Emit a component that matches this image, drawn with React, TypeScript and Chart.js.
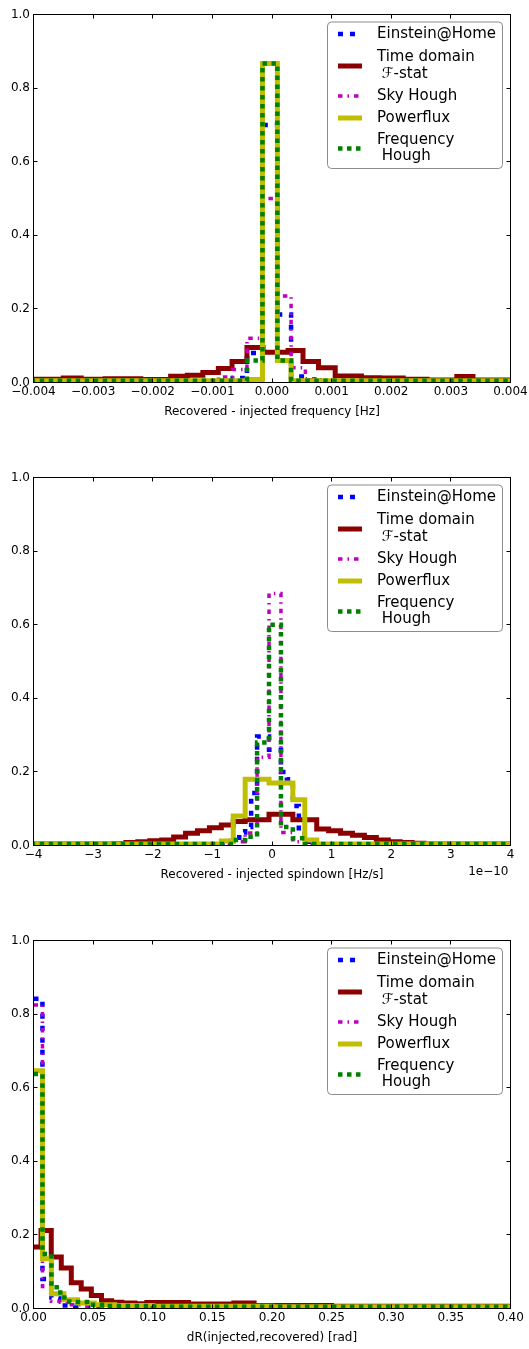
import React, { useEffect, useRef } from 'react';
import { Chart, registerables } from 'chart.js';

Chart.register(...registerables);

const FONT = "'DejaVu Sans', sans-serif";

// ---------- series names ----------
const SERIES_LABELS: string[][] = [
  ['Einstein@Home'],
  ['Time domain', ' \u2131-stat'],
  ['Sky Hough'],
  ['Powerflux'],
  ['Frequency', ' Hough'],
];

// ---------- axis ticks ----------
const Y_TICKS = [0, 0.2, 0.4, 0.6, 0.8, 1.0];
const Y_TICK_LABELS = ['0.0', '0.2', '0.4', '0.6', '0.8', '1.0'];

const FREQ_TICKS = [-0.004, -0.003, -0.002, -0.001, 0, 0.001, 0.002, 0.003, 0.004];
const FREQ_TICK_LABELS = ['\u22120.004', '\u22120.003', '\u22120.002', '\u22120.001', '0.000', '0.001', '0.002', '0.003', '0.004'];

const SPIN_TICKS = [-4, -3, -2, -1, 0, 1, 2, 3, 4];
const SPIN_TICK_LABELS = ['\u22124', '\u22123', '\u22122', '\u22121', '0', '1', '2', '3', '4'];

const DR_TICKS = [0, 0.05, 0.1, 0.15, 0.2, 0.25, 0.3, 0.35, 0.4];
const DR_TICK_LABELS = ['0.00', '0.05', '0.10', '0.15', '0.20', '0.25', '0.30', '0.35', '0.40'];

// ---------- panel 1: frequency [Hz] (bin edges, normalised heights) ----------
const F_EAH_EDGES = [-0.0045, -0.00066, -0.00042, -0.00016, 0.00009, 0.00032, 0.00056, 0.0008, 0.0045];
const F_EAH_VALS = [0.002, 0.012, 0.08, 0.70, 0.185, 0.016, 0.006, 0.002];

const F_TD_EDGES = [-0.0045, -0.0035, -0.0032, -0.0028, -0.0022, -0.0017, -0.00142, -0.00116, -0.0009, -0.00067, -0.00042, -0.00015, 0.00027, 0.00052, 0.00078, 0.00106, 0.0015, 0.0018, 0.0022, 0.0026, 0.0031, 0.00337, 0.0036, 0.0045];
const F_TD_VALS = [0.009, 0.012, 0.009, 0.01, 0.008, 0.017, 0.02, 0.027, 0.038, 0.057, 0.095, 0.082, 0.087, 0.057, 0.04, 0.018, 0.013, 0.012, 0.009, 0.007, 0.016, 0.007, 0.007];

const F_SKY_EDGES = [-0.0045, -0.0009, -0.00066, -0.00042, -0.00016, 0.00009, 0.00032, 0.00056, 0.0008, 0.0045];
const F_SKY_VALS = [0.002, 0.015, 0.035, 0.12, 0.50, 0.235, 0.04, 0.01, 0.002];

const F_PF_EDGES = [-0.0045, -0.00042, -0.00016, 0.00009, 0.00032, 0.0045];
const F_PF_VALS = [0.005, 0.008, 0.867, 0.06, 0.005];

const F_FH_EDGES = [-0.0045, -0.00042, -0.00016, 0.00009, 0.00032, 0.0045];
const F_FH_VALS = [0.005, 0.06, 0.867, 0.06, 0.005];

// ---------- panel 2: spindown [1e-10 Hz/s] ----------
const S_EAH_EDGES = [-4.5, -0.75, -0.55, -0.45, -0.35, -0.25, -0.05, 0.15, 0.25, 0.35, 0.45, 0.55, 0.75, 4.5];
const S_EAH_VALS = [0.003, 0.012, 0.035, 0.05, 0.143, 0.296, 0.26, 0.2, 0.18, 0.107, 0.04, 0.01, 0.003];

const S_TD_EDGES = [-4.5, -2.65, -2.45, -2.25, -2.05, -1.85, -1.65, -1.45, -1.25, -1.05, -0.85, -0.65, -0.45, -0.05, 0.35, 0.75, 0.95, 1.15, 1.35, 1.55, 1.75, 1.95, 2.15, 2.35, 2.55, 4.5];
const S_TD_VALS = [0.004, 0.005, 0.008, 0.01, 0.013, 0.015, 0.023, 0.033, 0.04, 0.048, 0.056, 0.065, 0.07, 0.085, 0.07, 0.045, 0.04, 0.033, 0.028, 0.022, 0.015, 0.01, 0.008, 0.006, 0.004];

const S_SKY_EDGES = [-4.5, -0.65, -0.45, -0.25, -0.05, 0.15, 0.35, 0.55, 4.5];
const S_SKY_VALS = [0.002, 0.01, 0.034, 0.24, 0.685, 0.035, 0.01, 0.002];

const S_PF_EDGES = [-4.5, -0.85, -0.65, -0.45, -0.05, 0.35, 0.55, 0.75, 4.5];
const S_PF_VALS = [0.004, 0.012, 0.08, 0.18, 0.17, 0.124, 0.015, 0.004];

const S_FH_EDGES = [-4.5, -0.65, -0.45, -0.25, -0.05, 0.15, 0.35, 0.55, 4.5];
const S_FH_VALS = [0.004, 0.015, 0.024, 0.28, 0.60, 0.05, 0.02, 0.004];

// ---------- panel 3: dR [rad] ----------
const R_EAH_EDGES = [0, 0.0075, 0.015, 0.0225, 0.035, 0.05, 0.45];
const R_EAH_VALS = [0.842, 0.08, 0.03, 0.008, 0.005, 0.002];

const R_TD_EDGES = [0, 0.0063, 0.0149, 0.0233, 0.0317, 0.04, 0.0485, 0.057, 0.0655, 0.074, 0.085, 0.095, 0.13, 0.168, 0.185, 0.25, 0.45];
const R_TD_VALS = [0.167, 0.212, 0.14, 0.11, 0.07, 0.053, 0.035, 0.021, 0.017, 0.015, 0.013, 0.016, 0.012, 0.015, 0.008, 0.006];

const R_SKY_EDGES = [0, 0.0075, 0.015, 0.0225, 0.03, 0.045, 0.06, 0.45];
const R_SKY_VALS = [0.825, 0.06, 0.02, 0.017, 0.01, 0.005, 0.002];

const R_PF_EDGES = [0, 0.0075, 0.015, 0.0255, 0.037, 0.051, 0.068, 0.1, 0.2, 0.45];
const R_PF_VALS = [0.646, 0.135, 0.04, 0.024, 0.015, 0.01, 0.008, 0.006, 0.005];

const R_FH_EDGES = [0, 0.0075, 0.015, 0.0225, 0.03, 0.045, 0.06, 0.1, 0.45];
const R_FH_VALS = [0.637, 0.148, 0.058, 0.03, 0.018, 0.01, 0.007, 0.005];

// ---------- styles ----------
const STYLES = [
  { color: '#0000FF', width: 4.5, dash: [5, 7] },
  { color: '#8B0000', width: 5, dash: [] as number[] },
  { color: '#BF00BF', width: 3.5, dash: [4.5, 5, 1.5, 5] },
  { color: '#BFBF00', width: 5, dash: [] as number[] },
  { color: '#008000', width: 4.5, dash: [4.5, 4.5] },
];

function steps(edges: number[], vals: number[]) {
  const pts = vals.map((v, i) => ({ x: edges[i], y: v }));
  pts.push({ x: edges[edges.length - 1], y: vals[vals.length - 1] });
  return pts;
}

type PanelSpec = {
  series: [number[], number[]][];
  xMin: number;
  xMax: number;
  xTicks: number[];
  xLabels: string[];
  xTitle: string;
  offsetText: string | null;
};

const PANELS: PanelSpec[] = [
  {
    series: [[F_EAH_EDGES, F_EAH_VALS], [F_TD_EDGES, F_TD_VALS], [F_SKY_EDGES, F_SKY_VALS], [F_PF_EDGES, F_PF_VALS], [F_FH_EDGES, F_FH_VALS]],
    xMin: -0.004, xMax: 0.004, xTicks: FREQ_TICKS, xLabels: FREQ_TICK_LABELS,
    xTitle: 'Recovered - injected frequency [Hz]', offsetText: null,
  },
  {
    series: [[S_EAH_EDGES, S_EAH_VALS], [S_TD_EDGES, S_TD_VALS], [S_SKY_EDGES, S_SKY_VALS], [S_PF_EDGES, S_PF_VALS], [S_FH_EDGES, S_FH_VALS]],
    xMin: -4, xMax: 4, xTicks: SPIN_TICKS, xLabels: SPIN_TICK_LABELS,
    xTitle: 'Recovered - injected spindown [Hz/s]', offsetText: '1e\u221210',
  },
  {
    series: [[R_EAH_EDGES, R_EAH_VALS], [R_TD_EDGES, R_TD_VALS], [R_SKY_EDGES, R_SKY_VALS], [R_PF_EDGES, R_PF_VALS], [R_FH_EDGES, R_FH_VALS]],
    xMin: 0, xMax: 0.4, xTicks: DR_TICKS, xLabels: DR_TICK_LABELS,
    xTitle: 'dR(injected,recovered) [rad]', offsetText: null,
  },
];

function makeOverlay(offsetText: string | null) {
  return {
    id: 'overlay',
    afterDatasetsDraw(chart: any) {
      const { ctx, chartArea: ca, scales } = chart;
      ctx.save();
      ctx.setLineDash([]);
      // frame
      ctx.strokeStyle = '#000';
      ctx.lineWidth = 1;
      ctx.strokeRect(ca.left, ca.top, ca.right - ca.left, ca.bottom - ca.top);
      // inward ticks
      const tl = 4;
      ctx.beginPath();
      scales.x.ticks.forEach((t: any) => {
        const p = Math.round(scales.x.getPixelForValue(t.value) - 0.5) + 0.5;
        ctx.moveTo(p, ca.bottom); ctx.lineTo(p, ca.bottom - tl);
        ctx.moveTo(p, ca.top); ctx.lineTo(p, ca.top + tl);
      });
      scales.y.ticks.forEach((t: any) => {
        const p = Math.round(scales.y.getPixelForValue(t.value) - 0.5) + 0.5;
        ctx.moveTo(ca.left, p); ctx.lineTo(ca.left + tl, p);
        ctx.moveTo(ca.right, p); ctx.lineTo(ca.right - tl, p);
      });
      ctx.stroke();

      // legend
      const bx = ca.right - 183, by = ca.top + 7.5, bw = 175, bh = 146.5, r = 4;
      ctx.beginPath();
      ctx.moveTo(bx + r, by);
      ctx.lineTo(bx + bw - r, by);
      ctx.arcTo(bx + bw, by, bx + bw, by + r, r);
      ctx.lineTo(bx + bw, by + bh - r);
      ctx.arcTo(bx + bw, by + bh, bx + bw - r, by + bh, r);
      ctx.lineTo(bx + r, by + bh);
      ctx.arcTo(bx, by + bh, bx, by + bh - r, r);
      ctx.lineTo(bx, by + r);
      ctx.arcTo(bx, by, bx + r, by, r);
      ctx.closePath();
      ctx.fillStyle = '#fff';
      ctx.fill();
      ctx.strokeStyle = '#8c8c8c';
      ctx.lineWidth = 1;
      ctx.stroke();

      const handleY = [19.5, 51.5, 81.5, 103.5, 134];
      const textY = [[19.5], [42.5, 59.5], [81.5], [103.5], [125.5, 142]];
      const hx0 = ca.right - 172.5, hx1 = ca.right - 148.5;
      const tx = ca.right - 133.5;
      ctx.font = `15px ${FONT}`;
      ctx.textAlign = 'left';
      ctx.textBaseline = 'middle';
      SERIES_LABELS.forEach((lines, i) => {
        const st = STYLES[i];
        ctx.beginPath();
        ctx.strokeStyle = st.color;
        ctx.lineWidth = st.width;
        ctx.lineCap = 'butt';
        ctx.setLineDash(st.dash);
        const y = ca.top + handleY[i];
        ctx.moveTo(hx0, y);
        ctx.lineTo(hx1, y);
        ctx.stroke();
        ctx.setLineDash([]);
        ctx.fillStyle = '#000';
        lines.forEach((ln, j) => ctx.fillText(ln, tx, ca.top + textY[i][j]));
      });

      if (offsetText) {
        ctx.font = `12px ${FONT}`;
        ctx.textAlign = 'right';
        ctx.textBaseline = 'middle';
        ctx.fillStyle = '#000';
        ctx.fillText(offsetText, ca.right - 2, ca.bottom + 26);
      }
      ctx.restore();
    },
  };
}

function buildConfig(p: PanelSpec): any {
  return {
    type: 'line',
    data: {
      datasets: p.series.map(([edges, vals], i) => ({
        label: SERIES_LABELS[i].join(' '),
        data: steps(edges, vals),
        borderColor: STYLES[i].color,
        borderWidth: STYLES[i].width,
        borderDash: STYLES[i].dash,
        borderCapStyle: 'butt',
        borderJoinStyle: 'miter',
        stepped: 'before',
        pointRadius: 0,
        pointHoverRadius: 0,
        fill: false,
        tension: 0,
        clip: 0,
        order: 4 - i,
      })),
    },
    options: {
      animation: false,
      responsive: false,
      maintainAspectRatio: false,
      events: [],
      layout: { padding: { left: 0, right: 18.5, top: 14.5, bottom: 40.5 } },
      plugins: { legend: { display: false }, tooltip: { enabled: false }, title: { display: false } },
      scales: {
        x: {
          type: 'linear',
          min: p.xMin,
          max: p.xMax,
          afterBuildTicks: (axis: any) => { axis.ticks = p.xTicks.map((v) => ({ value: v })); },
          ticks: {
            callback: (_v: any, idx: number) => p.xLabels[idx],
            font: { family: FONT, size: 12 },
            color: '#000',
            padding: 2.5,
            maxRotation: 0,
            autoSkip: false,
          },
          grid: { display: false, drawTicks: false },
          border: { display: false },
          title: {
            display: true,
            text: p.xTitle,
            font: { family: FONT, size: 12 },
            color: '#000',
            padding: { top: 0, bottom: 3 },
          },
          afterFit: (a: any) => { a.height = 40; a.paddingLeft = 0; a.paddingRight = 0; },
        },
        y: {
          type: 'linear',
          min: 0,
          max: 1,
          afterBuildTicks: (axis: any) => { axis.ticks = Y_TICKS.map((v) => ({ value: v })); },
          ticks: {
            callback: (_v: any, idx: number) => Y_TICK_LABELS[idx],
            font: { family: FONT, size: 12 },
            color: '#000',
            padding: 3.5,
            autoSkip: false,
          },
          grid: { display: false, drawTicks: false },
          border: { display: false },
          afterFit: (a: any) => { a.width = 33.5; a.paddingTop = 0; a.paddingBottom = 0; },
        },
      },
    },
    plugins: [makeOverlay(p.offsetText)],
  };
}

export default function App() {
  const refs = [useRef<HTMLCanvasElement>(null), useRef<HTMLCanvasElement>(null), useRef<HTMLCanvasElement>(null)];

  useEffect(() => {
    const charts = PANELS.map((p, i) => new Chart(refs[i].current as HTMLCanvasElement, buildConfig(p)));
    return () => charts.forEach((c) => c.destroy());
  }, []);

  return (
    <div style={{ position: 'absolute', left: 0, top: 0, width: 529, height: 1349, overflow: 'hidden', background: '#fff' }}>
      {PANELS.map((_, i) => (
        <canvas
          key={i}
          ref={refs[i]}
          width={529}
          height={463}
          style={{ position: 'absolute', left: 0, top: 463 * i, width: 529, height: 463 }}
        />
      ))}
    </div>
  );
}
